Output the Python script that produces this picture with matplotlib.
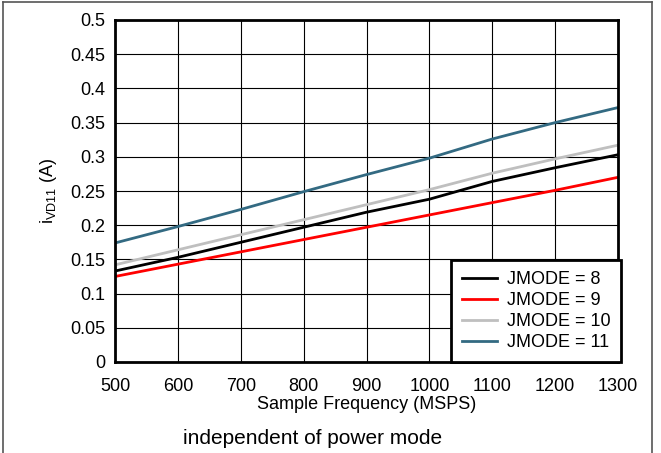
import matplotlib
matplotlib.use('Agg')
import matplotlib.pyplot as plt
from matplotlib.lines import Line2D

plt.rcParams['font.family'] = ['Liberation Sans', 'DejaVu Sans']
plt.rcParams['mathtext.fontset'] = 'custom'
plt.rcParams['mathtext.rm'] = 'Liberation Sans'

freq = [500, 600, 700, 800, 900, 1000, 1100, 1200, 1300]
jmode8 = [0.133, 0.153, 0.175, 0.197, 0.219, 0.238, 0.264, 0.284, 0.303]
jmode9 = [0.125, 0.143, 0.161, 0.179, 0.197, 0.215, 0.233, 0.251, 0.270]
jmode10 = [0.142, 0.164, 0.186, 0.208, 0.230, 0.252, 0.276, 0.297, 0.317]
jmode11 = [0.174, 0.198, 0.223, 0.249, 0.274, 0.298, 0.326, 0.350, 0.372]
labels = ['JMODE = 8', 'JMODE = 9', 'JMODE = 10', 'JMODE = 11']
colors = ['#000000', '#ff0000', '#bfbfbf', '#336a82']
yticks = [0, 0.05, 0.1, 0.15, 0.2, 0.25, 0.3, 0.35, 0.4, 0.45, 0.5]
ytick_labels = ['0', '0.05', '0.1', '0.15', '0.2', '0.25', '0.3', '0.35', '0.4', '0.45', '0.5']

fig = plt.figure(figsize=(6.61, 4.53), dpi=100)
ax = fig.add_axes([115 / 661, 91 / 453, 503 / 661, 342 / 453])

for ys, lab, c in zip([jmode8, jmode9, jmode10, jmode11], labels, colors):
    ax.plot(freq, ys, color=c, linewidth=2, label=lab)

ax.set_xlim(500, 1300)
ax.set_ylim(0, 0.5)
ax.set_xticks(freq)
ax.set_yticks(yticks)
ax.set_yticklabels(ytick_labels)
ax.grid(True, color='black', linewidth=0.8)
ax.tick_params(length=0, labelsize=13)
ax.tick_params(axis='x', pad=11.5)
ax.tick_params(axis='y', pad=7)
for s in ax.spines.values():
    s.set_linewidth(2)
ax.set_xlabel('Sample Frequency (MSPS)', fontsize=13, labelpad=1)
ax.set_ylabel(r'i$_{\mathrm{VD11}}$ (A)', fontsize=13, labelpad=8)

leg = ax.legend(loc='lower right', bbox_to_anchor=(1.006, 0.0), fontsize=13,
                frameon=True, fancybox=False, framealpha=1, edgecolor='black',
                handlelength=1.9, handletextpad=0.55, labelspacing=0.22,
                borderpad=0.6, borderaxespad=0)
leg.get_frame().set_linewidth(2)

fig.text(313 / 661, 1 - 438 / 453, 'independent of power mode', fontsize=15,
         ha='center', va='center')

# outer frame lines (left, top, right)
fig.add_artist(Line2D([3 / 661, 3 / 661], [0, 1 - 2 / 453], color='#555555', linewidth=1.2))
fig.add_artist(Line2D([3 / 661, 652 / 661], [1 - 2 / 453, 1 - 2 / 453], color='#555555', linewidth=1.2))
fig.add_artist(Line2D([652 / 661, 652 / 661], [0, 1 - 2 / 453], color='#555555', linewidth=1.2))

fig.savefig('out.png', dpi=100)
